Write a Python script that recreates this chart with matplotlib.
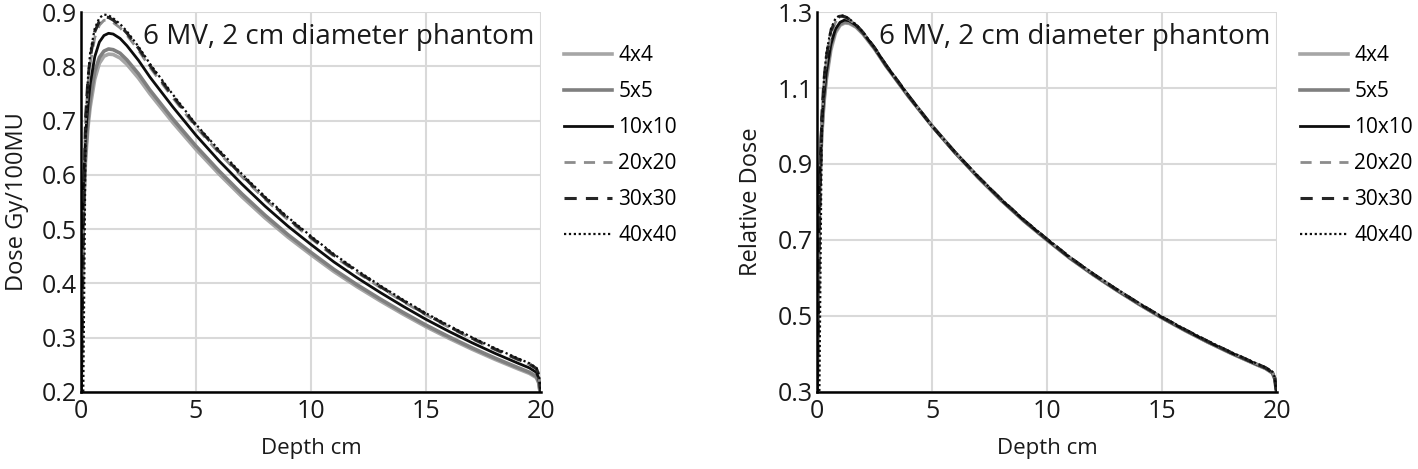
import numpy as np
import matplotlib.pyplot as plt

plt.rcParams['font.family'] = ['Open Sans', 'DejaVu Sans']

fields = ['4x4', '5x5', '10x10', '20x20', '30x30', '40x40']

# depth points (cm)
depth = [0.0, 0.05, 0.1, 0.2, 0.3, 0.4, 0.6, 0.8, 1.0, 1.2, 1.4, 1.7, 2.0, 2.5,
         3.0, 4.0, 5.0, 6.0, 7.0, 8.0, 9.0, 10.0, 11.0, 12.0, 13.0, 14.0, 15.0,
         16.0, 17.0, 18.0, 19.0, 19.5, 19.8, 19.9, 20.0]

# relative dose (normalised at 5 cm)
rel_4x4 = [0.28, 0.55, 0.80, 0.97, 1.06, 1.12, 1.20, 1.245, 1.265, 1.271, 1.270, 1.260,
           1.242, 1.203, 1.158, 1.076, 1.0, 0.930, 0.865, 0.805, 0.750, 0.700, 0.652,
           0.609, 0.569, 0.531, 0.495, 0.462, 0.431, 0.402, 0.375, 0.362, 0.350, 0.335, 0.29]
rel_5x5 = [0.28, 0.57, 0.82, 0.98, 1.07, 1.13, 1.21, 1.25, 1.268, 1.274, 1.272, 1.262,
           1.243, 1.204, 1.158, 1.076, 1.0, 0.930, 0.865, 0.805, 0.750, 0.700, 0.652,
           0.609, 0.569, 0.531, 0.495, 0.462, 0.431, 0.402, 0.375, 0.362, 0.350, 0.335, 0.29]
rel_10x10 = [0.28, 0.60, 0.85, 1.00, 1.08, 1.14, 1.215, 1.255, 1.273, 1.279, 1.277, 1.265,
             1.245, 1.205, 1.159, 1.077, 1.0, 0.930, 0.866, 0.806, 0.751, 0.701, 0.653,
             0.610, 0.570, 0.532, 0.496, 0.463, 0.432, 0.403, 0.376, 0.363, 0.351, 0.336, 0.29]
rel_20x20 = [0.28, 0.50, 0.78, 1.02, 1.11, 1.17, 1.24, 1.273, 1.286, 1.286, 1.280, 1.266,
             1.246, 1.206, 1.160, 1.078, 1.0, 0.931, 0.867, 0.807, 0.752, 0.702, 0.654,
             0.611, 0.571, 0.533, 0.497, 0.464, 0.433, 0.404, 0.377, 0.364, 0.352, 0.337, 0.29]
rel_30x30 = [0.28, 0.45, 0.70, 1.02, 1.12, 1.18, 1.25, 1.278, 1.289, 1.288, 1.281, 1.266,
             1.246, 1.206, 1.160, 1.078, 1.0, 0.931, 0.867, 0.807, 0.752, 0.702, 0.654,
             0.611, 0.571, 0.533, 0.497, 0.464, 0.433, 0.404, 0.377, 0.364, 0.352, 0.337, 0.29]
rel_40x40 = [0.28, 0.28, 0.29, 0.96, 1.12, 1.19, 1.255, 1.283, 1.292, 1.290, 1.282, 1.267,
             1.247, 1.207, 1.161, 1.079, 1.0, 0.932, 0.868, 0.808, 0.753, 0.703, 0.655,
             0.612, 0.572, 0.534, 0.498, 0.465, 0.434, 0.405, 0.378, 0.365, 0.353, 0.338, 0.29]
rel = [rel_4x4, rel_5x5, rel_10x10, rel_20x20, rel_30x30, rel_40x40]

# dose at 5 cm (Gy/100MU) per field, from the left panel
dose_5cm = [0.647, 0.653, 0.673, 0.688, 0.691, 0.693]

colors = ['#a6a6a6', '#7f7f7f', '#0d0d0d', '#8c8c8c', '#262626', '#0d0d0d']
styles = ['-', '-', '-', (0, (4, 3)), (0, (4, 3)), (0, (1, 1.2))]
widths = [2.6, 2.6, 2.0, 2.0, 2.2, 1.6]

fig = plt.figure(figsize=(14.18, 4.69), dpi=100)
ax1 = fig.add_axes([0.0571, 0.1642, 0.3244, 0.8102])
ax2 = fig.add_axes([0.5762, 0.1642, 0.3244, 0.8102])

for i, f in enumerate(fields):
    r = np.array(rel[i])
    ax1.plot(depth, r * dose_5cm[i], color=colors[i], ls=styles[i], lw=widths[i], label=f)
    ax2.plot(depth, r, color=colors[i], ls=styles[i], lw=widths[i], label=f)

ax1.set_ylim(0.2, 0.9)
ax1.set_yticks(np.arange(0.2, 0.91, 0.1))
ax1.set_yticklabels(['0.2', '0.3', '0.4', '0.5', '0.6', '0.7', '0.8', '0.9'])
ax1.set_ylabel('Dose Gy/100MU', fontsize=17, color='#1a1a1a')
ax1.yaxis.set_label_coords(-0.112, 0.5)

ax2.set_ylim(0.3, 1.3)
ax2.set_yticks([0.3, 0.5, 0.7, 0.9, 1.1, 1.3])
ax2.set_yticklabels(['0.3', '0.5', '0.7', '0.9', '1.1', '1.3'])
ax2.set_ylabel('Relative Dose', fontsize=17, color='#1a1a1a')
ax2.yaxis.set_label_coords(-0.117, 0.5)

for ax in (ax1, ax2):
    ax.set_xlim(0, 20)
    ax.set_xticks([0, 5, 10, 15, 20])
    ax.set_xlabel('Depth cm', fontsize=16, color='#1a1a1a', labelpad=10)
    ax.grid(True, color='#d9d9d9', lw=1.5)
    ax.set_axisbelow(True)
    for s in ('top', 'right'):
        ax.spines[s].set_visible(False)
    for s in ('left', 'bottom'):
        ax.spines[s].set_linewidth(1.8)
        ax.spines[s].set_color('#000000')
        ax.spines[s].set_zorder(5)
    ax.tick_params(length=0, labelsize=18, labelcolor='#1a1a1a')
    ax.tick_params(axis='y', pad=3)
    ax.tick_params(axis='x', pad=5)
    ax.text(0.985, 0.935, '6 MV, 2 cm diameter phantom', transform=ax.transAxes,
            ha='right', va='center', fontsize=20, color='#1a1a1a')
    ax.legend(loc='upper left', bbox_to_anchor=(1.032, 0.935), frameon=False,
              fontsize=15, handlelength=2.3, handletextpad=0.3, labelspacing=0.72,
              borderaxespad=0)

fig.savefig('out.png', dpi=100)
